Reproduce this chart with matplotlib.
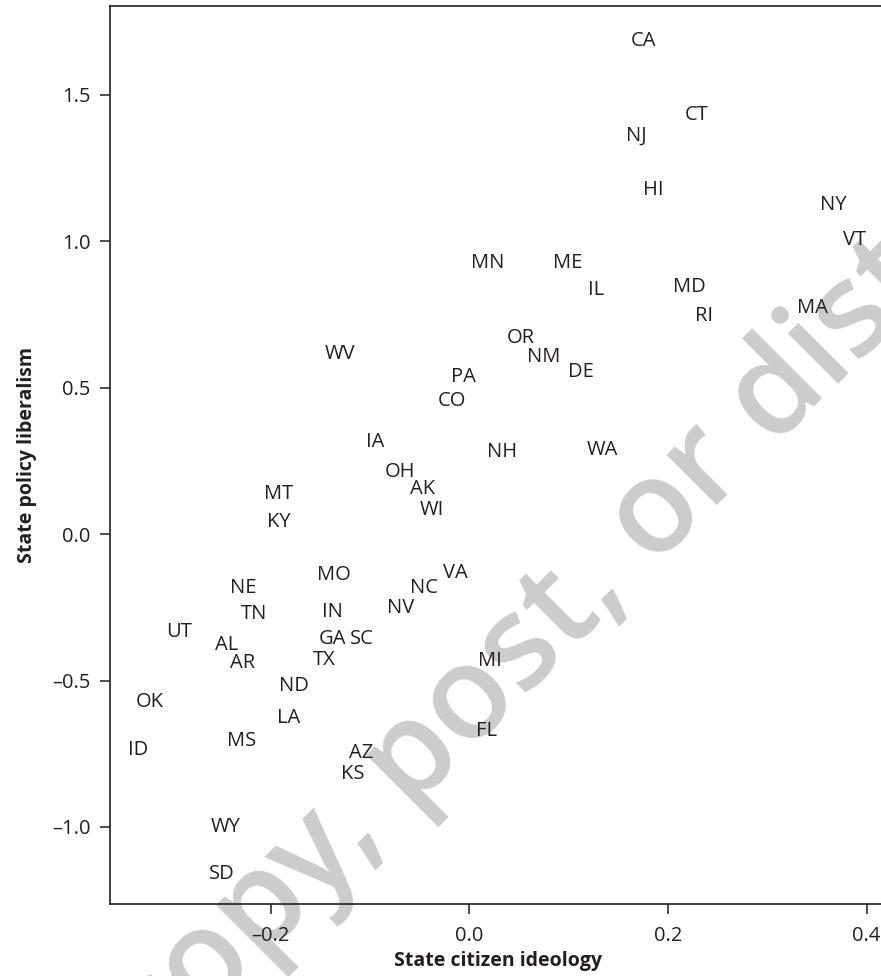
import matplotlib
matplotlib.use("Agg")
import matplotlib.pyplot as plt

# state abbreviations and their positions (citizen ideology, policy liberalism)
states = ['CA', 'CT', 'NJ', 'HI', 'NY', 'VT', 'MN', 'ME', 'IL', 'MD', 'RI', 'MA',
          'OR', 'NM', 'DE', 'PA', 'CO', 'NH', 'WA', 'VA', 'WV', 'IA', 'OH', 'AK',
          'WI', 'MT', 'KY', 'MO', 'NE', 'TN', 'IN', 'NC', 'NV', 'UT', 'GA', 'SC',
          'AL', 'AR', 'TX', 'ND', 'OK', 'LA', 'MS', 'ID', 'AZ', 'KS', 'WY', 'SD',
          'MI', 'FL']
ideology = [0.175, 0.229, 0.168, 0.185, 0.366, 0.388, 0.018, 0.099, 0.128, 0.221, 0.236, 0.345,
            0.052, 0.075, 0.112, -0.006, -0.018, 0.033, 0.134, -0.014, -0.130, -0.095, -0.070, -0.047,
            -0.038, -0.192, -0.192, -0.137, -0.228, -0.217, -0.138, -0.046, -0.069, -0.292, -0.138, -0.108,
            -0.245, -0.229, -0.146, -0.177, -0.322, -0.182, -0.229, -0.334, -0.109, -0.118, -0.246, -0.249,
            0.021, 0.017]
policy = [1.686, 1.430, 1.360, 1.175, 1.124, 1.005, 0.925, 0.925, 0.833, 0.844, 0.746, 0.773,
          0.669, 0.605, 0.553, 0.538, 0.456, 0.282, 0.288, -0.133, 0.615, 0.316, 0.212, 0.154,
          0.081, 0.137, 0.041, -0.139, -0.184, -0.272, -0.266, -0.184, -0.253, -0.333, -0.358, -0.358,
          -0.378, -0.441, -0.429, -0.517, -0.574, -0.628, -0.708, -0.738, -0.746, -0.819, -1.001, -1.160,
          -0.432, -0.672]

xticks = [-0.2, 0.0, 0.2, 0.4]
yticks = [-1.0, -0.5, 0.0, 0.5, 1.0, 1.5]
ink = '#231f20'

plt.rcParams['font.family'] = ['Open Sans', 'DejaVu Sans']

fig = plt.figure(figsize=(8.81, 9.76), dpi=100)
# axes runs a little past the right edge of the figure (cropped, like the original)
ax = fig.add_axes([0.1249, 0.0741, 0.8813, 0.9198])
ax.set_facecolor('none')

for s, xv, yv in zip(states, ideology, policy):
    ax.text(xv, yv, s, ha='center', va='center', fontsize=14.5, color=ink)

ax.set_xlim(-0.362, 0.42)
ax.set_ylim(-1.262, 1.804)
ax.set_xticks(xticks)
ax.set_yticks(yticks)
ax.set_xticklabels([f"{t:.1f}".replace('-', '\u2013') for t in xticks])
ax.set_yticklabels([f"{t:.1f}".replace('-', '\u2013') for t in yticks])
ax.tick_params(direction='out', length=7, width=1.1, colors=ink, labelsize=14.5)
ax.tick_params(axis='x', pad=9)
ax.tick_params(axis='y', pad=7)

for side in ['left', 'bottom', 'top']:
    ax.spines[side].set_linewidth(1.2)
    ax.spines[side].set_color(ink)
ax.spines['right'].set_visible(False)

ax.set_xlabel('State citizen ideology', fontsize=14, fontweight='bold', color=ink, labelpad=4)
ax.set_ylabel('State policy liberalism', fontsize=14, fontweight='bold', color=ink, labelpad=11)

# watermark behind everything
fig.text(0.592, 0.282, 'Do not copy, post, or distribute', fontsize=94, color='#cccccc',
         fontweight='semibold', rotation=45, rotation_mode='anchor', ha='center', va='baseline',
         zorder=-1)

fig.savefig('out.png', dpi=100)
